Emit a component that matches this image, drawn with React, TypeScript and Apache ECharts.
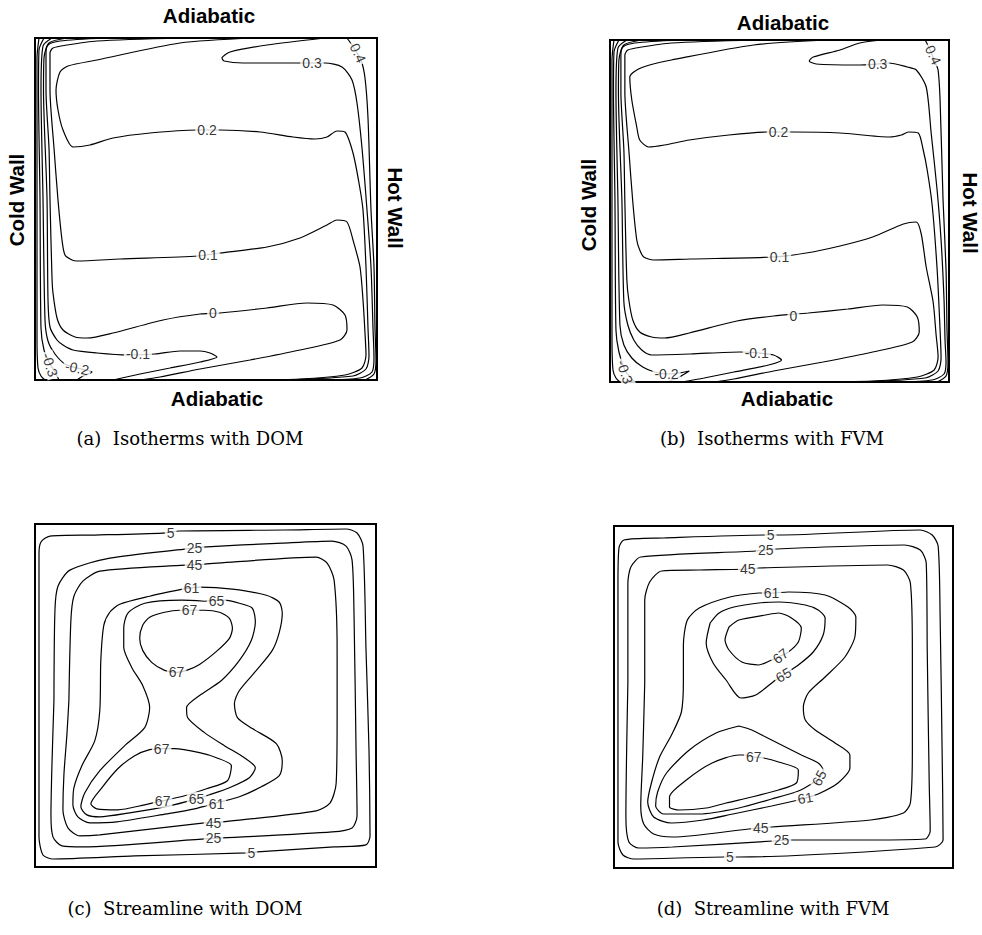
import React, { useEffect, useRef } from "react";
import * as echarts from "echarts";

// cavity side length in domain units (each box spans 0..L on both axes, y measured from the top)
const L = 342;

// ---------- (a) Isotherms with DOM ----------
const A_M04 = [[4,0],[2,20],[2,160],[2,300],[3,330],[6,338],[10,342]];
const A_M03 = [[9,0],[4,12],[3.5,52],[5,160],[6,290],[9,312],[15,326],[20,334],[24,342]];
const A_M02 = [[17,0],[8,8],[6,52],[8,160],[10,282],[13,303],[20,316],[30,326],[42,330],[57,334],[48,338],[42,342]];
const A_M01 = [[32,0],[14,5],[9,20],[8.5,52],[12,160],[13,262],[15,289],[22,302],[28,307],[38,312],[62,315],[92,317],[120,316],[145,313],[165,313],[175,315],[182,319],[165,324],[135,330],[105,336],[78,342]];
const A_00 = [[70,0],[25,3],[13,7],[11,15],[11,52],[14,110],[15,162],[17,240],[18,255],[22,280],[28,292],[40,299],[52,300],[78,295],[128,282],[165,276],[185,275],[232,270],[272,265],[298,267],[310,277],[312,292],[305,302],[265,312],[215,322],[165,331],[125,339],[105,342]];
const A_01 = [[148,0],[62,3],[32,7],[18,10],[15,15],[15,52],[19,110],[23,162],[27,202],[30,217],[37,222],[42,223],[85,221],[163,218],[185,215],[232,209],[265,200],[292,187],[302,182],[312,184],[318,202],[325,229],[328,262],[330,295],[331,317],[327,330],[310,337],[265,341],[195,342]];
const A_02 = [[220,0],[145,5],[62,22],[33,28],[25,34],[21,52],[23,72],[28,92],[38,109],[55,107],[78,100],[115,95],[162,92],[185,92],[225,94],[258,99],[280,101],[292,99],[302,93],[310,94],[318,115],[324,145],[328,172],[331,229],[333,290],[334,318],[331,331],[318,338],[250,342]];
const A_03 = [[290,0],[232,7],[195,14],[187,20],[189,23],[208,25],[265,25],[290,25],[307,29],[317,42],[322,65],[327,110],[332,172],[336,229],[338,290],[339,320],[337,334],[325,340],[290,342]];
const A_04 = [[312,0],[319,10],[326,22],[330,40],[333,80],[336,172],[339,229],[340,290],[341,322],[339,336],[330,342]];
const A_LABELS: [string, number, number, number][] = [
  ["0.4", 323, 15, -65], ["0.3", 277, 25, 0], ["0.2", 172, 92, 0], ["0.1", 173, 217, 0],
  ["0", 178, 275, 0], ["-0.1", 103, 316, 0], ["-0.2", 42, 330, -12], ["-0.3", 15, 327, -72],
];

// ---------- (b) Isotherms with FVM ----------
const B_M04 = [[4,0],[2,20],[2,160],[2,300],[3,330],[6,338],[10,342]];
const B_M03 = [[9,0],[4,12],[3.5,52],[5,160],[6,290],[9,312],[15,330],[20,337],[25,342]];
const B_M02 = [[17,0],[8,8],[6,52],[8,160],[10,285],[14,305],[22,318],[33,327],[45,332],[57,334],[70,333],[80,331],[70,337],[58,342]];
const B_M01 = [[32,0],[14,5],[9,20],[8.5,52],[12,160],[14,262],[18,285],[24,300],[32,310],[42,315],[81,314],[131,312],[150,313],[165,315],[173,320],[160,325],[125,332],[95,338],[72,342]];
const B_00 = [[70,0],[25,3],[13,7],[11,15],[11,52],[14,110],[15,162],[17,240],[19,260],[23,280],[30,292],[42,297],[55,298],[80,293],[128,281],[165,276],[200,273],[240,269],[275,265],[300,267],[310,277],[312,292],[305,302],[265,312],[215,322],[165,331],[125,339],[105,342]];
const B_01 = [[148,0],[62,3],[32,7],[18,10],[15,15],[15,52],[19,110],[23,162],[27,200],[30,210],[34,217],[44,220],[81,219],[165,217],[198,213],[232,206],[265,197],[296,184],[309,182],[314,194],[319,227],[326,262],[329,295],[331,317],[327,330],[310,337],[265,341],[195,342]];
const B_02 = [[220,0],[145,5],[62,20],[40,25],[27,30],[20,37],[22,60],[27,87],[30,100],[39,107],[55,105],[80,100],[120,95],[160,92],[185,92],[232,93],[282,97],[294,95],[301,92],[311,93],[316,110],[320,130],[325,165],[330,229],[333,290],[334,318],[331,331],[318,338],[250,342]];
const B_03 = [[275,0],[252,3],[232,10],[205,17],[201,21],[208,24],[249,25],[270,24],[281,23],[300,27],[309,30],[319,47],[324,93],[330,150],[334,200],[337,260],[338,300],[339,322],[337,334],[325,340],[290,342]];
const B_04 = [[318,0],[322,8],[328,22],[331,30],[333,60],[336,160],[339,229],[340,290],[341,322],[339,336],[330,342]];
const B_LABELS: [string, number, number, number][] = [
  ["0.4", 326, 15, -65], ["0.3", 270, 24, 0], ["0.2", 170, 92, 0], ["0.1", 171, 217, 0],
  ["0", 185, 276, 0], ["-0.1", 148, 313, 0], ["-0.2", 57, 334, 0], ["-0.3", 15, 332, -72],
];

// ---------- (c) Streamline with DOM ----------
const C_05 = [[4,176],[4,30],[6,18],[15,12],[60,11],[128,9],[145,7],[250,6],[312,5],[323,9],[329,22],[332,126],[335,226],[336,311],[332,320],[300,322],[223,327],[213,328],[100,331],[18,334],[8,330],[4,312],[4,176]];
const C_25 = [[19,176],[20,86],[23,62],[35,46],[75,34],[150,25],[168,23],[248,19],[298,17],[312,22],[318,36],[320,93],[322,226],[323,291],[318,303],[298,307],[188,313],[170,314],[48,322],[27,321],[18,312],[16,290],[17,240],[19,176]];
const C_45 = [[34,176],[36,96],[39,72],[48,57],[65,47],[150,41],[170,40],[282,33],[293,39],[300,56],[303,126],[303,196],[302,259],[296,278],[282,286],[188,297],[170,298],[65,310],[45,311],[33,303],[28,285],[29,250],[32,210],[34,176]];
const C_61 = [[148,65],[165,63],[198,65],[232,71],[245,78],[248,89],[245,108],[238,126],[222,146],[205,166],[200,179],[203,193],[218,204],[242,219],[248,236],[245,251],[227,262],[205,272],[182,278],[160,284],[132,289],[82,297],[55,298],[43,292],[38,280],[39,263],[47,241],[60,216],[65,186],[66,136],[69,101],[75,88],[85,80],[115,72],[148,65]];
const C_65 = [[170,77],[190,76],[205,79],[218,84],[221,98],[217,116],[205,136],[187,156],[165,171],[152,183],[153,193],[170,208],[190,221],[210,233],[221,243],[215,253],[195,263],[175,270],[162,274],[135,281],[95,288],[65,292],[52,290],[46,282],[50,268],[65,246],[90,221],[110,203],[115,183],[108,161],[97,143],[89,123],[89,104],[93,89],[110,79],[147,76],[170,77]];
const C_67A = [[155,86],[170,86],[185,88],[195,94],[198,104],[195,114],[182,127],[165,140],[152,146],[142,148],[130,146],[117,138],[108,126],[105,114],[108,101],[115,93],[130,88],[145,86],[155,86]];
const C_67B = [[127,224],[140,224],[165,228],[182,233],[197,241],[193,256],[172,264],[150,271],[128,276],[110,280],[83,285],[62,284],[56,279],[67,263],[83,244],[100,231],[115,225],[127,224]];
const C_LABELS: [string, number, number, number][] = [
  ["5", 136, 9, 0], ["25", 160, 24, 0], ["45", 160, 41, 0], ["61", 157, 64, 0], ["65", 182, 77, 0],
  ["67", 155, 86, 0], ["67", 142, 148, 0], ["67", 127, 224, 0], ["67", 128, 276, 0], ["65", 162, 274, 0],
  ["61", 182, 279, 0], ["45", 179, 298, 0], ["25", 179, 313, 0], ["5", 217, 328, 0],
];

// ---------- (d) Streamline with FVM ----------
const D_05 = [[4,190],[4,57],[5,22],[10,14],[50,12],[153,9],[165,9],[309,4],[321,9],[327,20],[329,90],[331,224],[332,314],[324,321],[126,331],[111,331],[20,333],[9,329],[4,316],[4,190]];
const D_25 = [[14,157],[14,57],[17,41],[27,31],[143,25],[163,23],[293,19],[309,24],[315,37],[316,124],[318,257],[319,305],[314,313],[259,314],[176,314],[161,315],[59,321],[25,322],[15,316],[12,291],[14,157]];
const D_45 = [[31,157],[31,74],[36,56],[48,45],[86,44],[135,43],[146,42],[276,39],[292,44],[299,57],[301,124],[301,224],[299,277],[292,287],[259,294],[159,301],[136,303],[59,311],[40,308],[30,298],[27,280],[29,230],[31,157]];
const D_61 = [[146,67],[117,71],[86,82],[74,94],[70,119],[70,154],[68,186],[58,209],[46,231],[38,256],[34,276],[40,291],[58,297],[90,294],[120,288],[159,280],[186,274],[193,272],[206,268],[226,257],[238,242],[238,229],[223,217],[203,204],[193,194],[191,181],[196,167],[213,151],[233,131],[243,111],[244,91],[236,81],[213,69],[176,66],[159,67],[146,67]];
const D_65A = [[97,97],[93,117],[100,137],[113,154],[128,172],[143,169],[163,154],[171,149],[186,139],[201,126],[211,109],[213,92],[206,84],[193,79],[166,76],[146,77],[121,81],[106,87],[97,97]];
const D_67A = [[116,101],[126,94],[153,89],[166,87],[179,92],[189,102],[186,116],[176,126],[168,130],[159,134],[146,139],[129,136],[116,124],[112,114],[116,101]];
const D_65B = [[126,200],[103,207],[76,224],[53,247],[44,266],[42,280],[50,288],[86,288],[126,282],[159,273],[186,265],[199,258],[207,252],[211,244],[206,237],[189,229],[163,216],[153,211],[139,204],[126,200]];
const D_67B = [[133,229],[141,231],[151,232],[166,236],[186,244],[184,257],[166,264],[139,271],[113,277],[93,282],[66,284],[56,281],[56,271],[73,254],[99,237],[126,229],[133,229]];
const D_LABELS: [string, number, number, number][] = [
  ["5", 158, 9, 0], ["25", 153, 24, 0], ["45", 135, 43, 0], ["61", 159, 67, 0],
  ["67", 168, 130, 38], ["65", 171, 149, 30], ["67", 141, 231, 0], ["65", 207, 252, 62],
  ["61", 193, 272, 10], ["45", 148, 302, 0], ["25", 169, 314, 0], ["5", 117, 331, 0],
];

const CAPTIONS = ["(a)  Isotherms with DOM", "(b)  Isotherms with FVM", "(c)  Streamline with DOM", "(d)  Streamline with FVM"];

const PANELS = [
  { box: { left: 35, top: 38, width: 342, height: 342 }, lines: [A_M04, A_M03, A_M02, A_M01, A_00, A_01, A_02, A_03, A_04], labels: A_LABELS },
  { box: { left: 610, top: 40, width: 339, height: 342 }, lines: [B_M04, B_M03, B_M02, B_M01, B_00, B_01, B_02, B_03, B_04], labels: B_LABELS },
  { box: { left: 35, top: 524, width: 341, height: 343 }, lines: [C_05, C_25, C_45, C_61, C_65, C_67A, C_67B], labels: C_LABELS },
  { box: { left: 614, top: 526, width: 339, height: 342 }, lines: [D_05, D_25, D_45, D_61, D_65A, D_67A, D_65B, D_67B], labels: D_LABELS },
];

function buildOption() {
  const grid = PANELS.map((p) => ({
    ...p.box, show: true, borderColor: "#000", borderWidth: 2, backgroundColor: "transparent", containLabel: false,
  }));
  const hidden = { show: false };
  const xAxis = PANELS.map((_, i) => ({ type: "value", gridIndex: i, min: 0, max: L, ...hidden }));
  const yAxis = PANELS.map((_, i) => ({ type: "value", gridIndex: i, min: 0, max: L, inverse: true, ...hidden }));
  const series: any[] = [];
  PANELS.forEach((p, i) => {
    p.lines.forEach((pts) => {
      series.push({
        type: "line", xAxisIndex: i, yAxisIndex: i, data: pts, symbol: "none", showSymbol: false,
        smooth: 0.25, clip: false, silent: true, z: 2,
        lineStyle: { color: "#000", width: 1.2 },
      });
    });
    series.push({
      type: "scatter", xAxisIndex: i, yAxisIndex: i, symbolSize: 1, silent: true, z: 5,
      itemStyle: { color: "rgba(0,0,0,0)" },
      data: p.labels.map((l) => ({ name: l[0], value: [l[1], l[2]], label: { rotate: l[3] } })),
      label: {
        show: true, position: "inside", formatter: "{b}", color: "#000",
        fontFamily: "Liberation Sans", fontSize: 14, backgroundColor: "#fff", padding: [0, 2],
      },
    });
  });
  const bold = { fill: "#000", fontFamily: "Liberation Sans", fontWeight: "bold", fontSize: 20.5, align: "center", verticalAlign: "middle", textAlign: "center", textVerticalAlign: "middle" };
  const serif = { fill: "#000", fontFamily: "DejaVu Serif", fontSize: 18, align: "center", verticalAlign: "middle", textAlign: "center", textVerticalAlign: "middle" };
  const walls = [
    { t: "Adiabatic", x: 209, y: 15, r: 0 }, { t: "Adiabatic", x: 217, y: 398, r: 0 },
    { t: "Cold Wall", x: 16, y: 200, r: Math.PI / 2 }, { t: "Hot Wall", x: 395, y: 208, r: -Math.PI / 2 },
    { t: "Adiabatic", x: 783, y: 22, r: 0 }, { t: "Adiabatic", x: 787, y: 398, r: 0 },
    { t: "Cold Wall", x: 588, y: 205, r: Math.PI / 2 }, { t: "Hot Wall", x: 970, y: 213, r: -Math.PI / 2 },
  ];
  const capPos = [[190, 438], [772, 438], [185, 908], [773, 908]];
  const graphic: any[] = [
    ...walls.map((w) => ({ type: "text", x: w.x, y: w.y, rotation: w.r, silent: true, style: { ...bold, text: w.t } })),
    ...CAPTIONS.map((c, i) => ({ type: "text", x: capPos[i][0], y: capPos[i][1], silent: true, style: { ...serif, text: c } })),
  ];
  return { animation: false, backgroundColor: "#fff", grid, xAxis, yAxis, series, graphic };
}

export default function App() {
  const ref = useRef<HTMLDivElement>(null);
  useEffect(() => {
    document.body.style.margin = "0";
    const chart = echarts.init(ref.current!, null, { renderer: "svg" });
    chart.setOption(buildOption() as any);
    return () => chart.dispose();
  }, []);
  return <div ref={ref} style={{ width: 982, height: 935 }} />;
}
